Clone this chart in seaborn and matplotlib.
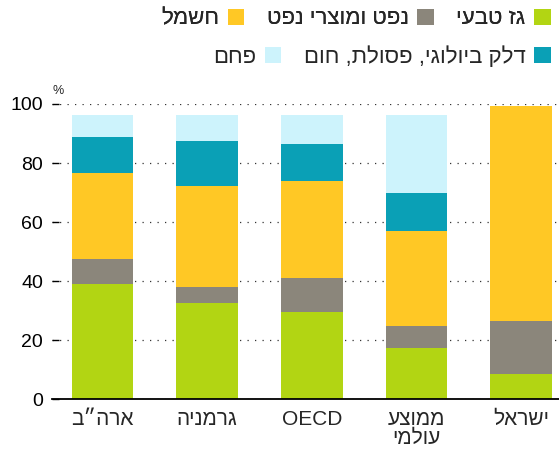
import numpy as np
import pandas as pd
import matplotlib
matplotlib.use("Agg")
import matplotlib.pyplot as plt
import seaborn as sns
from matplotlib.patches import Patch

# ---- data (logical Hebrew order) ----
categories = ['ארה״ב', 'גרמניה', 'OECD', 'ממוצע\nעולמי', 'ישראל']
gas = [39.0, 32.5, 29.7, 17.3, 8.7]
oil = [8.5, 5.4, 11.5, 7.6, 17.9]
elec = [29.0, 34.4, 32.8, 32.2, 72.8]
bio = [12.4, 15.3, 12.3, 12.7, 0.0]
coal = [7.4, 8.7, 10.0, 26.5, 0.0]
series_names = ['גז טבעי', 'נפט ומוצרי נפט', 'חשמל', 'דלק ביולוגי, פסולת, חום', 'פחם']
y_ticks = [0, 20, 40, 60, 80, 100]

colors = ['#b2d513', '#8b867b', '#ffc825', '#0aa0b6', '#cdf3fc']


def vis(s):
    """Visual (LTR-rendered) form of RTL Hebrew text."""
    out = []
    for line in s.split('\n'):
        if any('\u0590' <= ch <= '\u05ff' for ch in line):
            out.append(line[::-1])
        else:
            out.append(line)
    return '\n'.join(out)


sns.set_theme(style='white')
plt.rcParams['font.family'] = ['Liberation Sans', 'DejaVu Sans']

fig = plt.figure(figsize=(5.59, 4.59), dpi=100)
ax = fig.add_axes([52 / 559, (459 - 399.3) / 459, (559 - 52) / 559, 295.3 / 459])

layers = [gas, oil, elec, bio, coal]
cum = np.cumsum(np.array(layers), axis=0)
df = pd.DataFrame({'cat': categories})
# draw from top layer down so lower layers overlay
for i in range(len(layers) - 1, -1, -1):
    df['v'] = cum[i]
    sns.barplot(data=df, x='cat', y='v', order=categories, color=colors[i],
                saturation=1, width=0.59, ax=ax, zorder=2, linewidth=0)

ax.set_xlim(-0.483, 4.363)
ax.set_ylim(0, 100)
ax.set_yticks(y_ticks)
ax.set_xlabel('')
ax.set_ylabel('')
ax.yaxis.grid(True, linestyle=(0, (1, 5)), color='#333333', linewidth=0.9)
ax.xaxis.grid(False)
ax.set_axisbelow(True)
for s in ['left', 'right', 'top']:
    ax.spines[s].set_visible(False)
ax.spines['bottom'].set_color('black')
ax.spines['bottom'].set_linewidth(1.3)
ax.spines['bottom'].set_zorder(5)

ax.tick_params(axis='y', direction='in', length=5, width=1.0, color='black',
               pad=6.5, labelsize=14, labelcolor='black', left=True)
ax.tick_params(axis='x', length=0, pad=7.5)
ax.set_xticks(range(len(categories)))
ax.set_xticklabels([vis(c) for c in categories],
                   family=['Liberation Sans', 'DejaVu Sans'], fontsize=15,
                   linespacing=1.0)

fig.text(58 / 559, 1 - 91 / 459, '%', fontsize=9, ha='center', va='center')

# ---- legend (RTL, two rows) ----
leg_font = {'family': ['Liberation Sans', 'DejaVu Sans'], 'size': 16}
row1 = [2, 1, 0]
row2 = [4, 3]
h1 = [Patch(facecolor=colors[i], edgecolor='none') for i in row1]
h2 = [Patch(facecolor=colors[i], edgecolor='none') for i in row2]
leg1 = fig.legend(h1, [vis(series_names[i]) for i in row1], ncol=3,
                  loc='center right', bbox_to_anchor=(551 / 559, 1 - 19 / 459),
                  frameon=False, markerfirst=False, prop=leg_font,
                  handlelength=0.75, handleheight=0.75, handletextpad=0.4,
                  columnspacing=1.0, borderaxespad=0, borderpad=0)
fig.add_artist(leg1)
leg2 = fig.legend(h2, [vis(series_names[i]) for i in row2], ncol=2,
                  loc='center right', bbox_to_anchor=(551 / 559, 1 - 57 / 459),
                  frameon=False, markerfirst=False, prop=leg_font,
                  handlelength=0.75, handleheight=0.75, handletextpad=0.4,
                  columnspacing=1.0, borderaxespad=0, borderpad=0)

fig.savefig('out.png', dpi=100)
